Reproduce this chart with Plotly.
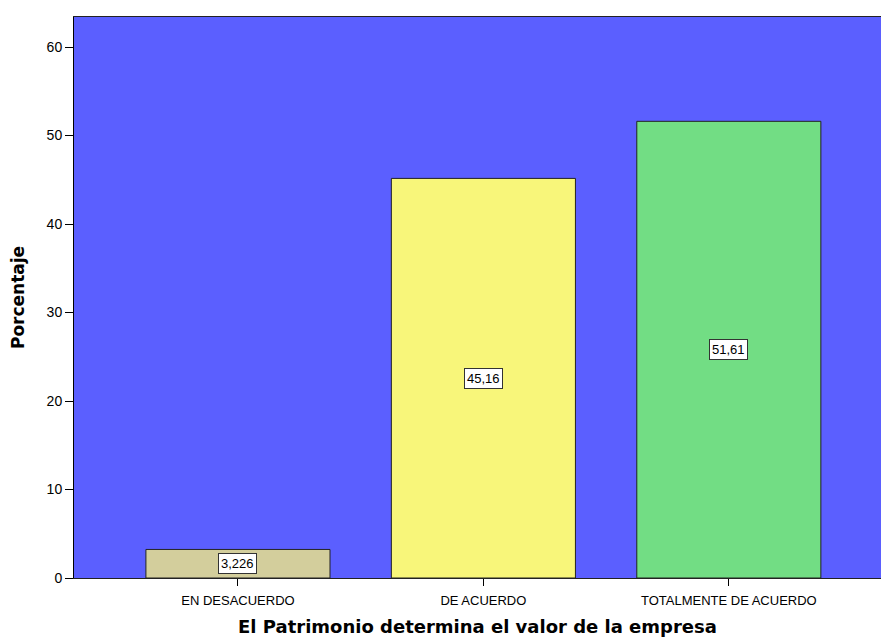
import plotly.graph_objects as go

# Survey responses: "El Patrimonio determina el valor de la empresa"
categories = ["EN DESACUERDO", "DE ACUERDO", "TOTALMENTE DE ACUERDO"]
percentages = [3.226, 45.16, 51.61]
value_labels = ["3,226", "45,16", "51,61"]
bar_colors = ["#d3ce9c", "#f8f67a", "#72dd84"]
y_ticks = [0, 10, 20, 30, 40, 50, 60]

fig = go.Figure()
fig.add_trace(go.Bar(
    x=list(range(len(categories))),
    y=percentages,
    marker=dict(color=bar_colors, line=dict(color="#222222", width=1)),
    hoverinfo="skip",
))

# Value boxes centred inside each bar
for i, (v, lab) in enumerate(zip(percentages, value_labels)):
    fig.add_annotation(
        x=i, y=v / 2, text=lab, showarrow=False,
        font=dict(family="Liberation Sans, Arial, sans-serif", size=13, color="#000000"),
        bgcolor="#ffffff", bordercolor="#333333", borderwidth=1, borderpad=2,
    )

fig.update_layout(
    width=881, height=639,
    margin=dict(l=74, r=0, t=17, b=61),
    paper_bgcolor="#ffffff",
    plot_bgcolor="#5b5fff",
    bargap=0.25,
    showlegend=False,
    font=dict(family="Liberation Sans, Arial, sans-serif", size=13, color="#000000"),
    xaxis=dict(
        range=[-0.668, 2.62],
        tickmode="array", tickvals=list(range(len(categories))), ticktext=categories,
        ticks="outside", ticklen=7, tickcolor="#000000", tickwidth=1,
        showline=True, linecolor="#222222", linewidth=1, mirror=True,
        showgrid=False, zeroline=False,
        tickfont=dict(size=13), ticklabelstandoff=3,
        title=dict(text="<b>El Patrimonio determina el valor de la empresa</b>",
                   font=dict(family="DejaVu Sans, Verdana, sans-serif", size=18),
                   standoff=13),
    ),
    yaxis=dict(
        range=[0, 63.4],
        tickmode="array", tickvals=y_ticks,
        ticks="outside", ticklen=8, tickcolor="#000000", tickwidth=1,
        showline=True, linecolor="#000000", linewidth=1,
        showgrid=False, zeroline=False,
        tickfont=dict(size=14),
        title=dict(text="<b>Porcentaje</b>",
                   font=dict(family="DejaVu Sans, Verdana, sans-serif", size=17),
                   standoff=17),
    ),
)

fig.write_html("out.html")
